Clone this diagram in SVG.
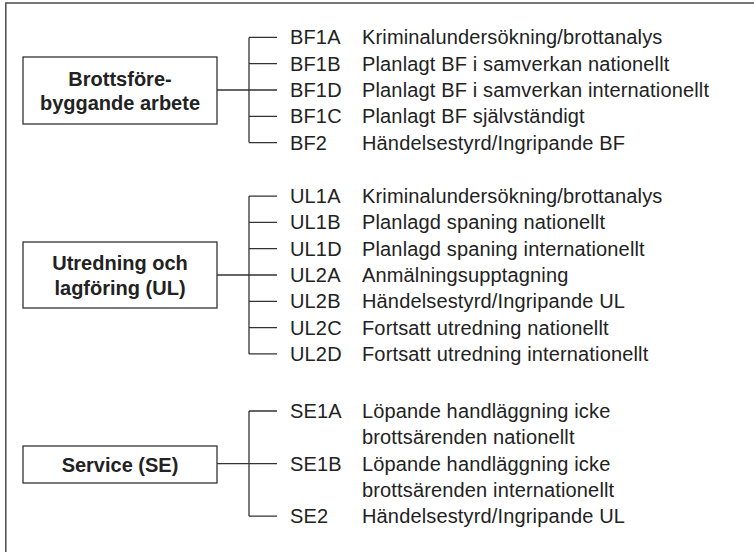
<svg xmlns="http://www.w3.org/2000/svg" width="754" height="552" viewBox="0 0 754 552">
<style>
.frame{fill:none;stroke:#555;stroke-width:1.6}
.box{fill:#fff;stroke:#333;stroke-width:1.3}
.ln{fill:none;stroke:#333;stroke-width:1.3}
.bt{font-family:"Liberation Sans",Arial,sans-serif;font-weight:bold;font-size:20px;fill:#222;text-anchor:middle}
.t{font-family:"Liberation Sans",Arial,sans-serif;font-size:20px;fill:#222;letter-spacing:0.15px}
</style>
<rect width="754" height="552" fill="#fff"/>
<rect class="frame" x="5.8" y="3" width="800" height="600"/>
<g id="connectors">
<path class="ln" d="M217,90H249M249,37.4V142.6M249,37.4H277M249,63.7H277M249,90H277M249,116.3H277M249,142.6H277"/>
<path class="ln" d="M217,275H249M249,196.1V353.9M249,196.1H277M249,222.4H277M249,248.7H277M249,275H277M249,301.3H277M249,327.6H277M249,353.9H277"/>
<path class="ln" d="M217,463.6H249M249,411V516.2M249,411H277M249,463.6H277M249,516.2H277"/>
</g>
<g id="bf">
<rect class="box" x="23" y="57" width="194" height="67"/>
<text class="bt" x="120" y="85.5">Brottsföre-</text>
<text class="bt" x="120" y="110">byggande arbete</text>
</g>
<g id="ul">
<rect class="box" x="23" y="242" width="194" height="66"/>
<text class="bt" x="120" y="270">Utredning och</text>
<text class="bt" x="120" y="294.5">lagföring (UL)</text>
</g>
<g id="se">
<rect class="box" x="23" y="446" width="194" height="37"/>
<text class="bt" x="120" y="471.5">Service (SE)</text>
</g>
<g id="bf-items">
<text class="t" x="290" y="44.4">BF1A</text><text class="t" x="362" y="44.4">Kriminalundersökning/brottanalys</text>
<text class="t" x="290" y="70.7">BF1B</text><text class="t" x="362" y="70.7">Planlagt BF i samverkan nationellt</text>
<text class="t" x="290" y="97">BF1D</text><text class="t" x="362" y="97">Planlagt BF i samverkan internationellt</text>
<text class="t" x="290" y="123.3">BF1C</text><text class="t" x="362" y="123.3">Planlagt BF självständigt</text>
<text class="t" x="290" y="149.6">BF2</text><text class="t" x="362" y="149.6">Händelsestyrd/Ingripande BF</text>
</g>
<g id="ul-items">
<text class="t" x="290" y="203.1">UL1A</text><text class="t" x="362" y="203.1">Kriminalundersökning/brottanalys</text>
<text class="t" x="290" y="229.4">UL1B</text><text class="t" x="362" y="229.4">Planlagd spaning nationellt</text>
<text class="t" x="290" y="255.7">UL1D</text><text class="t" x="362" y="255.7">Planlagd spaning internationellt</text>
<text class="t" x="290" y="282">UL2A</text><text class="t" x="362" y="282">Anmälningsupptagning</text>
<text class="t" x="290" y="308.3">UL2B</text><text class="t" x="362" y="308.3">Händelsestyrd/Ingripande UL</text>
<text class="t" x="290" y="334.6">UL2C</text><text class="t" x="362" y="334.6">Fortsatt utredning nationellt</text>
<text class="t" x="290" y="360.9">UL2D</text><text class="t" x="362" y="360.9">Fortsatt utredning internationellt</text>
</g>
<g id="se-items">
<text class="t" x="290" y="418">SE1A</text><text class="t" x="362" y="418">Löpande handläggning icke</text>
<text class="t" x="362" y="444.3">brottsärenden nationellt</text>
<text class="t" x="290" y="470.6">SE1B</text><text class="t" x="362" y="470.6">Löpande handläggning icke</text>
<text class="t" x="362" y="496.9">brottsärenden internationellt</text>
<text class="t" x="290" y="523.2">SE2</text><text class="t" x="362" y="523.2">Händelsestyrd/Ingripande UL</text>
</g>
</svg>
